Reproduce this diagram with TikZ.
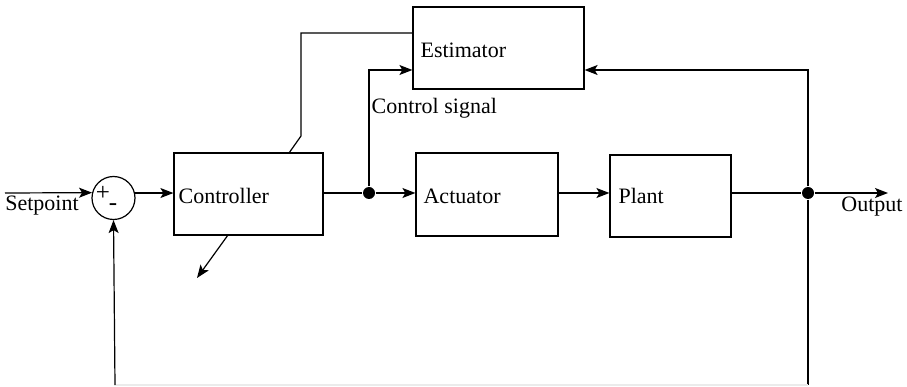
\documentclass[tikz,border=0pt]{standalone}
\usepackage{fontspec}
\setmainfont{Liberation Serif}
\usetikzlibrary{arrows.meta}
\begin{document}
\begin{tikzpicture}[x=1pt,y=-1pt,
  line width=1.2pt,
  box/.style={draw, rectangle, inner sep=0pt},
  lbl/.style={font=\fontsize{22}{25}\selectfont, inner sep=0pt},
  sgn/.style={font=\fontsize{25}{28}\selectfont, inner sep=0pt},
  arr/.style={-{Stealth[length=13pt,width=10pt,inset=3pt]}},
  dotn/.style={circle, fill, inner sep=0pt, minimum size=12pt}]
\useasboundingbox (0,0) rectangle (907,387);
% blocks
\node[box, minimum width=149pt, minimum height=82pt] (ctrl) at (248.5,194) {};
\node[box, minimum width=171pt, minimum height=82pt] (est) at (498.5,48) {};
\node[box, minimum width=142pt, minimum height=83pt] (act) at (487,194.5) {};
\node[box, minimum width=121pt, minimum height=82pt] (plant) at (670.5,196) {};
\node[draw, circle, inner sep=0pt, minimum size=43pt] (sum) at (113.5,198) {};
% block labels
\node[lbl, anchor=west] (ctrlt) at (178,196) {Controller};
\node[lbl, anchor=west] (estt) at (420,50) {Estimator};
\node[lbl, anchor=west] (actt) at (423,196) {Actuator};
\node[lbl, anchor=west] (plantt) at (618,196) {Plant};
\node[sgn] (plus) at (103,193) {+};
\node[sgn] (minus) at (113,207) {-};
% free labels
\node[lbl] (spt) at (42,206) {Setpoint};
\node[lbl] (outt) at (872,207) {Output};
\node[lbl, anchor=west] (cst) at (371,108) {Control signal};
% coordinates
\coordinate (spin) at (5,193);
\coordinate (j1) at (369,193);
\coordinate (j2) at (808,193);
\coordinate (outend) at (888,193);
\coordinate (ctop) at (289,153);
\coordinate (cbend) at (301,136);
\coordinate (cup) at (301,33);
\coordinate (cdiag) at (197,278);
\coordinate (cbot) at (228,235);
\coordinate (fb1) at (808,385);
\coordinate (fb2) at (115,385);
\node[dotn] (d1) at (j1) {};
\node[dotn] (d2) at (j2) {};
% connectors
\draw[arr] (spin) -- (sum.166.6);
\draw[arr] (sum.13.4) -- (ctrl.west |- sum.13.4);
\draw (ctrl.east |- j1) -- (d1);
\draw[arr] (d1) -- (act.west |- j1);
\draw[arr] (d1) |- (est.west |- 0,70);
\draw (ctop) -- (cbend) -- (cup) -- (est.west |- cup);
\draw[arr] (cbot) -- (cdiag);
\draw[arr] (act.east |- j1) -- (plant.west |- j1);
\draw (plant.east |- j2) -- (d2);
\draw[arr] (d2) -- (outend);
\draw[arr] (d2) -- (808,70) -- (est.east |- 0,70);
\draw (d2) -- (fb1);
\draw[black!8] (fb1) -- (fb2);
\draw[arr] (fb2) -- (sum.south);
\end{tikzpicture}
\end{document}
